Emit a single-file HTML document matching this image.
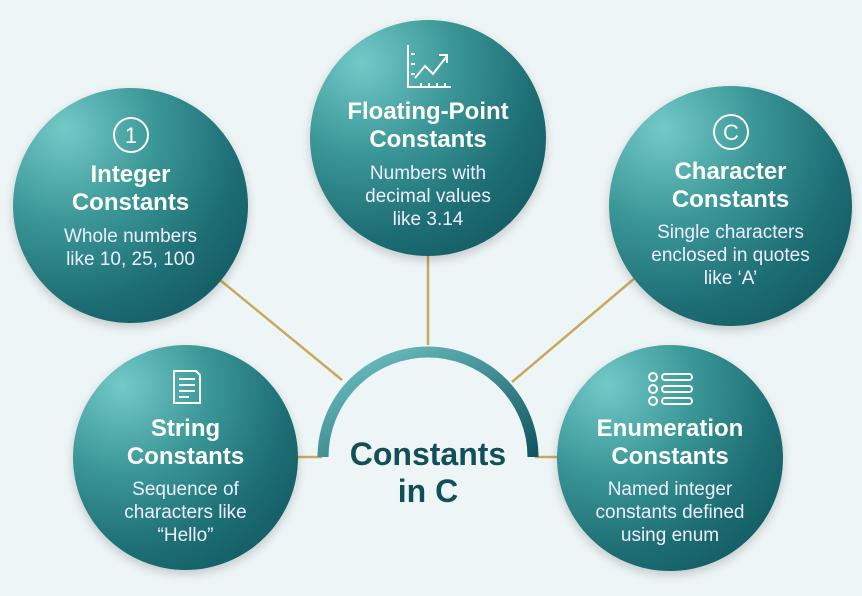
<!DOCTYPE html>
<html><head><style>
body{margin:0;width:862px;height:596px;background:#eef5f6;overflow:hidden;position:relative;font-family:"Liberation Sans",sans-serif}
.c{position:absolute;border-radius:50%;background:radial-gradient(circle at 22% 18%,#72c9c8 0%,#3a9696 35%,#1d6e74 65%,#0d4f58 100%);box-shadow:0 4px 10px rgba(0,0,0,.18);color:#fff;text-align:center;box-sizing:border-box}
.t{font-weight:bold;font-size:24px;line-height:28px}
.d{font-size:19px;line-height:23px;color:#eef}
.ic{display:block;margin:0 auto}
svg.l{position:absolute;left:0;top:0}
</style></head><body>
<svg class="l" width="862" height="596">
<defs><linearGradient id="g" x1="0" y1="0" x2="1" y2="1"><stop offset="0" stop-color="#74c8c8"/><stop offset="1" stop-color="#0f5560"/></linearGradient></defs>
<g stroke="#c9a95e" stroke-width="2.5">
<line x1="220" y1="280" x2="342" y2="380"/>
<line x1="428" y1="250" x2="428" y2="345"/>
<line x1="635" y1="278" x2="512" y2="382"/>
<line x1="295" y1="457" x2="322" y2="457"/>
<line x1="535" y1="457" x2="560" y2="457"/>
</g>
<path d="M323 457 A105 105 0 0 1 533 457" fill="none" stroke="url(#g)" stroke-width="11"/>
<text x="428" y="465" text-anchor="middle" font-family="Liberation Sans" font-weight="bold" font-size="32" fill="#124f58">Constants</text>
<text x="428" y="502" text-anchor="middle" font-family="Liberation Sans" font-weight="bold" font-size="32" fill="#124f58">in C</text>
</svg>

<div class="c" style="left:13px;top:88px;width:235px;height:235px;padding-top:27px">
<svg class="ic" width="40" height="40"><circle cx="20" cy="20" r="17" fill="none" stroke="#fff" stroke-width="2"/><text x="20" y="28" text-anchor="middle" fill="#fff" font-size="22" font-family="Liberation Sans">1</text></svg>
<div class="t" style="margin-top:6px">Integer<br>Constants</div>
<div class="d" style="margin-top:8px">Whole numbers<br>like 10, 25, 100</div>
</div>

<div class="c" style="left:310px;top:20px;width:236px;height:236px;padding-top:22px">
<svg class="ic" width="50" height="48"><path d="M5 3V45H48M8 12h4M8 22h4M8 32h4M18 45v-4M26 45v-4M34 45v-4M42 45v-4M12 36L22 24L30 32L44 14M36 13h8v8" fill="none" stroke="#fff" stroke-width="2"/></svg>
<div class="t" style="margin-top:8px">Floating-Point<br>Constants</div>
<div class="d" style="margin-top:8px">Numbers with<br>decimal values<br>like 3.14</div>
</div>

<div class="c" style="left:609px;top:86px;width:243px;height:240px;padding-top:26px">
<svg class="ic" width="40" height="40"><circle cx="20" cy="20" r="17" fill="none" stroke="#fff" stroke-width="2"/><text x="20" y="28" text-anchor="middle" fill="#fff" font-size="22" font-family="Liberation Sans">C</text></svg>
<div class="t" style="margin-top:6px">Character<br>Constants</div>
<div class="d" style="margin-top:7px">Single characters<br>enclosed in quotes<br>like ‘A’</div>
</div>

<div class="c" style="left:73px;top:345px;width:225px;height:225px;padding-top:22px">
<svg class="ic" width="40" height="40"><path d="M8 4h22l4 4v28H8z M13 12h16M13 18h16M13 24h16M13 30h10" fill="none" stroke="#fff" stroke-width="2"/></svg>
<div class="t" style="margin-top:8px">String<br>Constants</div>
<div class="d" style="margin-top:7px">Sequence of<br>characters like<br>“Hello”</div>
</div>

<div class="c" style="left:557px;top:345px;width:226px;height:226px;padding-top:24px">
<svg class="ic" width="50" height="40"><g fill="none" stroke="#fff" stroke-width="2"><circle cx="8" cy="8" r="4"/><circle cx="8" cy="20" r="4"/><circle cx="8" cy="32" r="4"/><rect x="17" y="5" width="30" height="6" rx="3"/><rect x="17" y="17" width="30" height="6" rx="3"/><rect x="17" y="29" width="30" height="6" rx="3"/></g></svg>
<div class="t" style="margin-top:6px">Enumeration<br>Constants</div>
<div class="d" style="margin-top:7px">Named integer<br>constants defined<br>using enum</div>
</div>
</body></html>
